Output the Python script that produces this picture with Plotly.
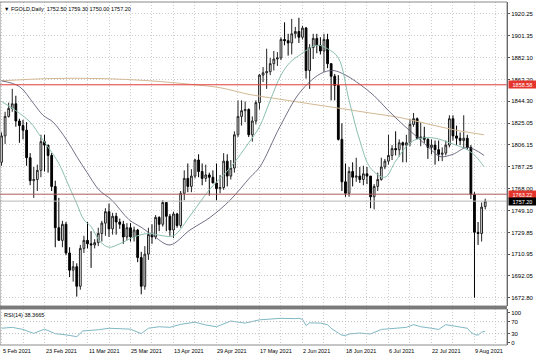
import plotly.graph_objects as go

# ---------------- data ----------------
date_labels = ["5 Feb 2021", "23 Feb 2021", "11 Mar 2021", "25 Mar 2021", "13 Apr 2021",
               "29 Apr 2021", "17 May 2021", "2 Jun 2021", "18 Jun 2021", "6 Jul 2021",
               "22 Jul 2021", "9 Aug 2021"]
date_label_idx = [0, 12, 24, 36, 48, 60, 72, 84, 96, 108, 120, 132]

opens = [1791, 1814, 1831, 1838, 1842, 1827, 1823, 1819, 1795, 1775, 1776, 1784, 1809, 1806, 1797, 1770,
         1734, 1723, 1737, 1712, 1697, 1700, 1683, 1716, 1723, 1720, 1719, 1721, 1729, 1738, 1748, 1733,
         1744, 1739, 1737, 1726, 1734, 1726, 1732, 1708, 1683, 1711, 1728, 1726, 1743, 1737, 1756, 1744,
         1732, 1746, 1736, 1764, 1777, 1770, 1779, 1793, 1783, 1777, 1780, 1778, 1773, 1768, 1769, 1792,
         1779, 1786, 1815, 1831, 1836, 1837, 1815, 1827, 1843, 1867, 1869, 1870, 1877, 1881, 1882, 1898,
         1897, 1895, 1903, 1905, 1900, 1908, 1871, 1891, 1899, 1893, 1888, 1898, 1877, 1866, 1858, 1811,
         1774, 1764, 1783, 1778, 1779, 1776, 1781, 1779, 1761, 1770, 1776, 1787, 1792, 1797, 1803, 1802,
         1808, 1806, 1808, 1824, 1829, 1812, 1813, 1811, 1804, 1806, 1802, 1798, 1799, 1806, 1829, 1814,
         1812, 1810, 1812, 1804, 1763, 1730, 1729, 1752.5]
highs = [1817, 1835, 1843, 1855, 1849, 1829, 1828, 1826, 1799, 1787, 1789, 1815, 1815, 1806, 1799, 1775,
         1760, 1740, 1739, 1717, 1705, 1703, 1719, 1727, 1739, 1731, 1724, 1734, 1740, 1751, 1755, 1747,
         1747, 1742, 1740, 1738, 1738, 1735, 1733, 1713, 1718, 1734, 1737, 1745, 1744, 1758, 1756, 1746,
         1748, 1747, 1766, 1784, 1790, 1785, 1794, 1798, 1790, 1789, 1782, 1784, 1790, 1780, 1799, 1798,
         1793, 1818, 1845, 1845, 1844, 1838, 1831, 1845, 1868, 1874, 1890, 1882, 1888, 1887, 1900, 1913,
         1903, 1916, 1909, 1917, 1910, 1909, 1894, 1903, 1903, 1900, 1903, 1903, 1877, 1868, 1867, 1825,
         1790, 1787, 1791, 1795, 1787, 1788, 1787, 1779, 1772, 1782, 1795, 1794, 1815, 1806, 1818, 1811,
         1809, 1815, 1829, 1834, 1830, 1826, 1822, 1812, 1811, 1810, 1810, 1804, 1810, 1832, 1832, 1823,
         1817, 1832, 1815, 1806, 1765, 1739, 1756, 1759.3]
lows = [1788, 1807, 1830, 1835, 1822, 1808, 1811, 1788, 1771, 1760, 1766, 1778, 1783, 1782, 1766, 1717,
        1723, 1717, 1710, 1691, 1687, 1674, 1680, 1712, 1716, 1699, 1716, 1718, 1722, 1727, 1726, 1728,
        1728, 1733, 1720, 1723, 1722, 1722, 1704, 1676, 1680, 1706, 1720, 1724, 1731, 1735, 1731, 1727,
        1725, 1734, 1734, 1758, 1765, 1765, 1777, 1778, 1771, 1774, 1762, 1773, 1758, 1764, 1767, 1770,
        1776, 1782, 1813, 1823, 1826, 1813, 1809, 1824, 1837, 1861, 1855, 1867, 1871, 1875, 1880, 1893,
        1884, 1885, 1899, 1895, 1898, 1864, 1855, 1881, 1886, 1885, 1870, 1873, 1845, 1845, 1810, 1766,
        1761, 1761, 1770, 1774, 1773, 1771, 1772, 1751, 1750, 1766, 1775, 1785, 1789, 1793, 1797, 1796,
        1791, 1791, 1805, 1822, 1811, 1805, 1808, 1794, 1798, 1789, 1792, 1792, 1797, 1804, 1810, 1806,
        1806, 1803, 1802, 1759, 1673, 1719, 1722, 1750.0]
closes = [1814, 1831, 1838, 1842, 1827, 1823, 1819, 1795, 1775, 1776, 1784, 1809, 1806, 1797, 1770, 1734,
          1723, 1737, 1712, 1697, 1700, 1683, 1716, 1723, 1720, 1719, 1721, 1729, 1738, 1748, 1733, 1744,
          1739, 1737, 1726, 1734, 1726, 1732, 1708, 1683, 1711, 1728, 1726, 1743, 1737, 1756, 1744, 1732,
          1746, 1736, 1764, 1777, 1770, 1779, 1793, 1783, 1777, 1780, 1778, 1773, 1768, 1769, 1792, 1779,
          1786, 1815, 1831, 1836, 1837, 1815, 1827, 1843, 1867, 1869, 1870, 1877, 1881, 1882, 1898, 1897,
          1895, 1903, 1905, 1900, 1908, 1871, 1891, 1899, 1893, 1888, 1898, 1877, 1866, 1858, 1811, 1774,
          1764, 1783, 1778, 1779, 1776, 1781, 1779, 1761, 1770, 1776, 1787, 1792, 1797, 1803, 1802, 1808,
          1806, 1808, 1824, 1829, 1812, 1813, 1811, 1804, 1806, 1802, 1798, 1799, 1806, 1829, 1814, 1812,
          1810, 1812, 1804, 1763, 1730, 1729, 1752, 1757.2]

# moving averages (bar index, value)
fast_ma_idx = [0, 4, 8, 11, 13.5, 16, 19, 21, 23, 25, 27.5, 30, 33, 37, 41, 45, 48, 53, 58, 64, 69, 72,
               75, 78, 80.5, 83, 88, 91, 94, 97, 100, 103, 107, 110, 114, 117, 121, 125, 130, 132.4, 134.7]
fast_ma_val = [1844, 1836, 1826, 1813, 1802, 1790, 1769, 1755, 1741, 1735, 1722, 1717, 1720, 1726, 1729, 1727,
               1727, 1746, 1767, 1787, 1808, 1822, 1845, 1867, 1878, 1884, 1893, 1890, 1882, 1845, 1810, 1786,
               1778, 1792, 1808, 1812, 1812, 1808, 1802, 1796, 1787]
slow_ma_idx = [0, 5, 9, 11.6, 14.4, 18.3, 21, 23.9, 27.2, 30.8, 35.6, 39.2, 42.8, 47, 52.6, 58.2, 63.8,
               69.4, 72.1, 77.7, 83.3, 88.9, 92.5, 96, 100, 104, 108, 112, 116, 119.6, 122.4, 126, 130, 134.7]
slow_ma_val = [1862, 1857, 1842, 1832, 1826, 1810, 1796, 1782, 1767, 1758, 1741, 1734, 1726, 1719, 1732, 1743,
               1758, 1778, 1787, 1822, 1852, 1868, 1871, 1867, 1859, 1849, 1836, 1824, 1813, 1803, 1796, 1798,
               1804, 1797]
long_ma_idx = [0, 13.5, 27.5, 41.5, 52.6, 61, 69.4, 77.7, 86, 94.5, 102.8, 111.2, 119.6, 126.8, 134.7]
long_ma_val = [1862, 1864, 1864, 1862, 1859, 1856, 1850, 1846, 1842, 1838, 1834, 1830, 1824, 1819, 1815]

rsi_idx = [0, 3, 6, 9, 12, 15, 18, 21, 22.7, 24, 27, 30, 33, 36, 39, 41, 44, 47, 50, 54, 57, 60, 64, 68,
           72, 75, 78, 82, 83, 84, 85, 86, 89, 91, 92, 94, 95, 96, 97, 100, 103, 106, 109, 113, 115, 117,
           120, 122, 124, 125, 127, 130, 131, 132, 133, 134, 135]
rsi_val = [48, 51, 44, 31, 45, 30, 26, 20, 39, 40, 43, 48, 46, 45, 30, 48, 53, 51, 61, 68, 59, 53, 72, 65,
           76, 79, 81, 80, 81, 78, 57, 66, 65, 60, 48, 32, 25, 24, 29, 32, 29, 44, 48, 51, 60, 53,
           48, 44, 60, 58, 53, 48, 35, 27, 25, 35, 38.3665]

price_ticks = [1672.80, 1692.05, 1710.95, 1729.85, 1749.10, 1768.00, 1787.25, 1806.15,
               1825.05, 1844.30, 1863.20, 1882.10, 1901.35, 1920.25]
rsi_ticks = [0, 30, 70, 100]
hline_red = 1858.58
hline_ask = 1763.22
hline_bid = 1757.20
title_text = "FGOLD,Daily  1752.50 1759.30 1750.00 1757.20"
rsi_text = "RSI(14) 38.3665"

# ---------------- figure ----------------
FONT = "Liberation Sans, Arial, sans-serif"
W, H = 536, 357
ML, MR, MT, MB = 0, 29, 2, 12
plot_h = H - MT - MB
main_bottom = (H - MB - 306) / plot_h
rsi_top = (H - MB - 309) / plot_h

n = len(closes)
xs = list(range(n))
xrange_ = [-0.42, 141.08]

fig = go.Figure()
fig.add_trace(go.Candlestick(
    x=xs, open=opens, high=highs, low=lows, close=closes,
    increasing=dict(line=dict(color="#222222", width=1), fillcolor="#f2f2f2"),
    decreasing=dict(line=dict(color="#000000", width=1), fillcolor="#000000"),
    whiskerwidth=0, xaxis="x", yaxis="y", showlegend=False, hoverinfo="skip"))

fig.add_trace(go.Scatter(x=long_ma_idx, y=long_ma_val, mode="lines", line=dict(color="#d4b894", width=1, shape="spline"),
                         xaxis="x", yaxis="y", showlegend=False, hoverinfo="skip"))
fig.add_trace(go.Scatter(x=slow_ma_idx, y=slow_ma_val, mode="lines", line=dict(color="#4c4c68", width=0.8, shape="spline"),
                         xaxis="x", yaxis="y", showlegend=False, hoverinfo="skip"))
fig.add_trace(go.Scatter(x=fast_ma_idx, y=fast_ma_val, mode="lines", line=dict(color="#8cbfb0", width=1, shape="spline"),
                         xaxis="x", yaxis="y", showlegend=False, hoverinfo="skip"))

fig.add_trace(go.Scatter(x=rsi_idx, y=rsi_val, mode="lines", line=dict(color="#7fb8c4", width=1),
                         xaxis="x2", yaxis="y2", showlegend=False, hoverinfo="skip"))

DOT = "1px,2px"
shapes = []
# horizontal price lines
for val, col in [(hline_red, "#e23b3b"), (hline_ask, "#b05a5a"), (hline_bid, "#b8b8b8")]:
    shapes.append(dict(type="line", xref="paper", yref="y", x0=0, x1=1, y0=val, y1=val,
                       line=dict(color=col, width=1)))
# RSI levels
for lv in [30, 70]:
    shapes.append(dict(type="line", xref="paper", yref="y2", x0=0, x1=1, y0=lv, y1=lv,
                       line=dict(color="#bdbdbd", width=1, dash=DOT)))
# panel frames and separator
shapes.append(dict(type="rect", xref="paper", yref="paper", x0=0, x1=1, y0=main_bottom, y1=1,
                   line=dict(color="#8a8a8a", width=1)))
shapes.append(dict(type="rect", xref="paper", yref="paper", x0=0, x1=1, y0=0, y1=rsi_top,
                   line=dict(color="#8a8a8a", width=1)))
shapes.append(dict(type="rect", xref="paper", yref="paper", x0=0, x1=1, y0=rsi_top, y1=main_bottom,
                   line=dict(width=0), fillcolor="#7a7a7a"))

annotations = []
annotations.append(dict(text="▼ " + title_text, xref="paper", yref="paper", x=0.004, y=0.995,
                        xanchor="left", yanchor="top", showarrow=False,
                        font=dict(family=FONT, size=5.5, color="#000000")))
annotations.append(dict(text=rsi_text, xref="paper", yref="paper", x=0.004, y=rsi_top - 0.004,
                        xanchor="left", yanchor="top", showarrow=False,
                        font=dict(family=FONT, size=5.5, color="#000000")))
for idx, lab in zip(date_label_idx, date_labels):
    annotations.append(dict(text=lab, xref="x2", yref="paper", x=idx, y=-0.003,
                            xanchor="left", yanchor="top", showarrow=False, xshift=-1,
                            font=dict(family=FONT, size=5.5, color="#000000")))
for val, bg in [(hline_red, "#e5342b"), (hline_ask, "#e5342b"), (hline_bid, "#000000")]:
    annotations.append(dict(text=f"{val:.2f}", xref="paper", yref="y", x=1, y=val,
                            xanchor="left", yanchor="middle", showarrow=False, xshift=1,
                            bgcolor=bg, borderpad=0, width=27, height=7,
                            font=dict(family=FONT, size=5.5, color="#ffffff")))

grid = dict(showgrid=True, gridcolor="#cdcdcd", gridwidth=1, griddash=DOT)

fig.update_layout(
    width=W, height=H, margin=dict(l=ML, r=MR, t=MT, b=MB),
    paper_bgcolor="#ffffff", plot_bgcolor="#ffffff",
    xaxis=dict(domain=[0, 1], anchor="y", range=xrange_, tick0=0, dtick=6, showticklabels=False,
               ticks="", zeroline=False, rangeslider=dict(visible=False), **grid),
    xaxis2=dict(domain=[0, 1], anchor="y2", range=xrange_, tick0=0, dtick=6, showticklabels=False,
                ticks="", zeroline=False, matches="x", **grid),
    yaxis=dict(domain=[main_bottom, 1], range=[1665.8, 1930.7], side="right",
               tickvals=price_ticks, ticktext=[f"{v:.2f}" for v in price_ticks],
               ticks="outside", ticklen=2, tickcolor="#555555",
               tickfont=dict(family=FONT, size=6, color="#000000"),
               showline=True, linecolor="#444444", linewidth=1, zeroline=False, **grid),
    yaxis2=dict(domain=[0, rsi_top], range=[-7.7, 112], side="right",
                tickvals=rsi_ticks, ticktext=[str(v) for v in rsi_ticks],
                ticks="outside", ticklen=2, tickcolor="#555555",
                tickfont=dict(family=FONT, size=6, color="#000000"),
                showline=True, linecolor="#444444", linewidth=1, zeroline=False, showgrid=False),
    shapes=shapes, annotations=annotations,
    hovermode=False,
)

fig.write_html("out.html", config=dict(displayModeBar=False),
               post_script="document.body.style.margin='0px';document.body.style.overflow='hidden';")
